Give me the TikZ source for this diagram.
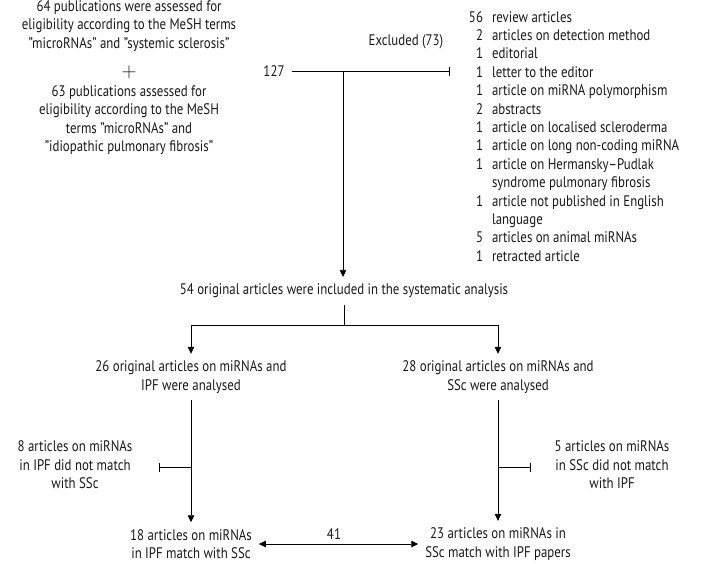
\documentclass[tikz,border=0pt]{standalone}
\usepackage{fontspec}
\usepackage{array}
\setmainfont[FakeStretch=0.84]{PT Sans}
\usetikzlibrary{arrows.meta}
\tikzset{
  txt/.style={inner sep=0pt, outer sep=7pt, align=center, font=\fontsize{15.3}{18.4}\selectfont, text=black!90},
  conn/.style={line width=0.8pt, draw=black},
  arr/.style={conn, -{Triangle[width=6.5pt,length=7pt]}},
  darr/.style={conn, {Triangle[width=6.5pt,length=7pt]}-{Triangle[width=6.5pt,length=7pt]}},
  barr/.style={conn, -{Bar[width=9pt,line width=0.8pt]}},
}
\begin{document}
\begin{tikzpicture}[x=1pt,y=-1pt]
\useasboundingbox (0,0) rectangle (720,563);
% top-left
\node[txt] (s1) at (129,26) {64 publications were assessed for\\eligibility according to the MeSH terms\\"microRNAs" and "systemic sclerosis"};
\node[txt, font=\fontsize{20}{20}\selectfont] (plus) at (129,72) {$+$};
\node[txt] (s2) at (129,120) {63 publications assessed for\\eligibility according to the MeSH\\terms "microRNAs" and\\"idiopathic pulmonary fibrosis"};
\node[txt] (n127) at (274,71) {127};
\node[txt] (exl) at (406,42) {Excluded (73)};
\coordinate (split) at (343,71);
\coordinate (exend) at (450,71);
% excluded list
\node[txt, anchor=base west, align=left, outer sep=0pt] (list) at (465,22) {%
\begin{tabular}[t]{@{}>{\raggedleft\arraybackslash}p{18pt}@{\hspace{9pt}}l@{}}
56 & review articles\\
2 & articles on detection method\\
1 & editorial\\
1 & letter to the editor\\
1 & article on miRNA polymorphism\\
2 & abstracts\\
1 & article on localised scleroderma\\
1 & article on long non-coding miRNA\\
1 & article on Hermansky–Pudlak\\
  & syndrome pulmonary fibrosis\\
1 & article not published in English\\
  & language\\
5 & articles on animal miRNAs\\
1 & retracted article
\end{tabular}};
% middle
\node[txt] (inc) at (344,291) {54 original articles were included in the systematic analysis};
\node[txt] (ipf) at (191,377) {26 original articles on miRNAs and\\IPF were analysed};
\node[txt] (ssc) at (498,377) {28 original articles on miRNAs and\\SSc were analysed};
\node[txt] (ipfno) at (75,465) {8 articles on miRNAs\\in IPF did not match\\with SSc};
\node[txt] (sscno) at (612,465) {5 articles on miRNAs\\in SSc did not match\\with IPF};
\node[txt] (ipfm) at (191,544) {18 articles on miRNAs\\in IPF match with SSc};
\node[txt] (sscm) at (498,544) {23 articles on miRNAs in\\SSc match with IPF papers};
\node[txt] (n41) at (334,534) {41};
\coordinate (fork) at (344,325);
\coordinate (t1) at (159,467);
\coordinate (t2) at (531,467);
% connectors
\draw[barr] (n127.east) -- (exend);
\draw[arr] (split) -- (split |- inc.north);
\draw[conn] (inc.south) -- (fork);
\draw[arr] (fork) -| (ipf.north);
\draw[arr] (fork) -| (ssc.north);
\draw[arr] (ipf.south) -- (ipfm.north);
\draw[arr] (ssc.south) -- (sscm.north);
\draw[barr] (ipf.south |- t1) -- (t1);
\draw[barr] (ssc.south |- t2) -- (t2);
\draw[darr] (ipfm.east) -- (sscm.west);
\end{tikzpicture}
\end{document}
